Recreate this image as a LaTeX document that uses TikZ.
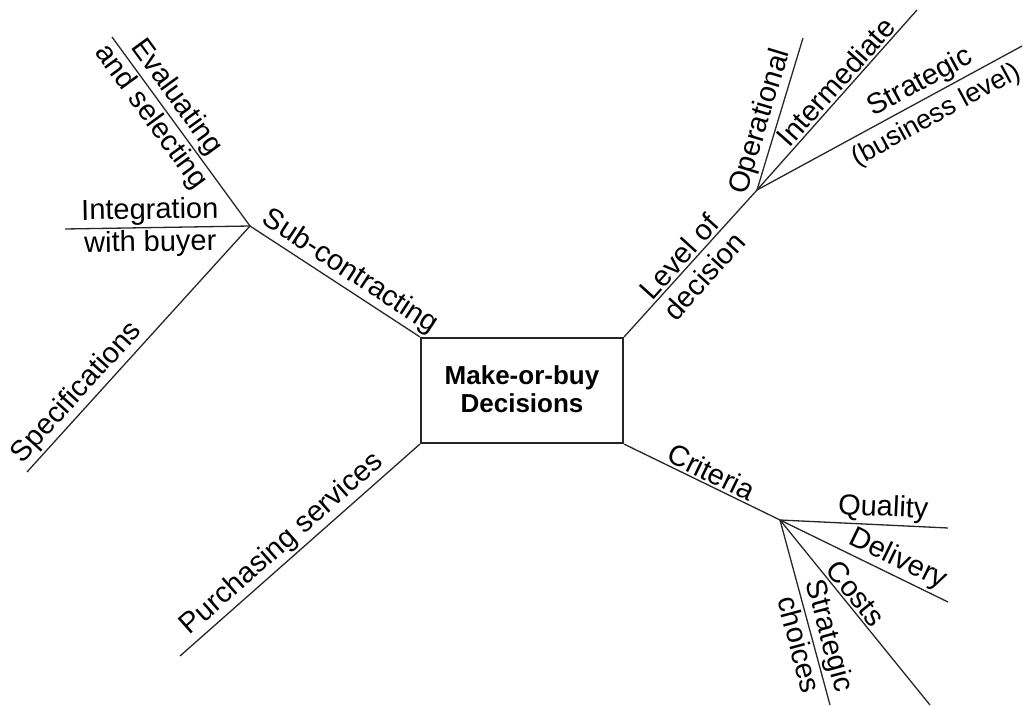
\documentclass[tikz,border=0pt]{standalone}
\usepackage{fontspec}
\setmainfont{Liberation Sans}
\begin{document}
\begin{tikzpicture}[x=1pt,y=-1pt,
  lbl/.style={font=\fontsize{29}{32}\selectfont, inner sep=2pt, sloped},
  ln/.style={line width=1.3pt, draw=black!85}]
\useasboundingbox (0,0) rectangle (1023,706);
\node[draw=black!85, line width=2.2pt, minimum width=202pt, minimum height=105pt, inner sep=0pt, align=center,
  font=\bfseries\fontsize{26}{32}\selectfont] (box) at (522,390.5) {\raisebox{3pt}{\shortstack{Make-or-buy\\[1pt]Decisions}}};
\coordinate (sub) at (250,226);
\coordinate (eval) at (112,37);
\coordinate (integ) at (65,229);
\coordinate (spec) at (27,472);
\coordinate (purch) at (180,656);
\coordinate (lev) at (757,190);
\coordinate (oper) at (803,38);
\coordinate (inter) at (917,10);
\coordinate (strat) at (1022,46);
\coordinate (crit) at (780,520);
\coordinate (qual) at (948,528);
\coordinate (deliv) at (948,602);
\coordinate (costs) at (930,705);
\coordinate (schoice) at (830,705);
\draw[ln] (box.north west) -- (sub) node[lbl, above, pos=0.463] {Sub-contracting};
\draw[ln] (sub) -- (eval) node[lbl, above, pos=0.63] {Evaluating} node[lbl, below, pos=0.625] {and selecting};
\draw[ln] (sub) -- (integ) node[lbl, above, pos=0.54] {Integration} node[lbl, below, pos=0.54] {with buyer};
\draw[ln] (sub) -- (spec) node[lbl, above, pos=0.722] {Specifications};
\draw[ln] (box.south west) -- (purch) node[lbl, above, pos=0.53] {Purchasing services};
\draw[ln] (box.north east) -- (lev) node[lbl, above, pos=0.487] {Level of} node[lbl, below=5pt, pos=0.5] {decision};
\draw[ln] (lev) -- (oper) node[lbl, above, pos=0.417] {Operational};
\draw[ln] (lev) -- (inter) node[lbl, above, pos=0.553] {Intermediate};
\draw[ln] (lev) -- (strat) node[lbl, above, pos=0.646] {Strategic}
  node[lbl, below=5pt, pos=0.64, font=\fontsize{27}{30}\selectfont] {(business level)};
\draw[ln] (box.south east) -- (crit) node[lbl, above, pos=0.525] {Criteria};
\draw[ln] (crit) -- (qual) node[lbl, above, pos=0.61] {Quality};
\draw[ln] (crit) -- (deliv) node[lbl, above, pos=0.66] {Delivery};
\draw[ln] (crit) -- (costs) node[lbl, above, pos=0.44] {Costs};
\draw[ln] (crit) -- (schoice) node[lbl, above, pos=0.651] {Strategic} node[lbl, below, pos=0.655] {choices};
\end{tikzpicture}
\end{document}
